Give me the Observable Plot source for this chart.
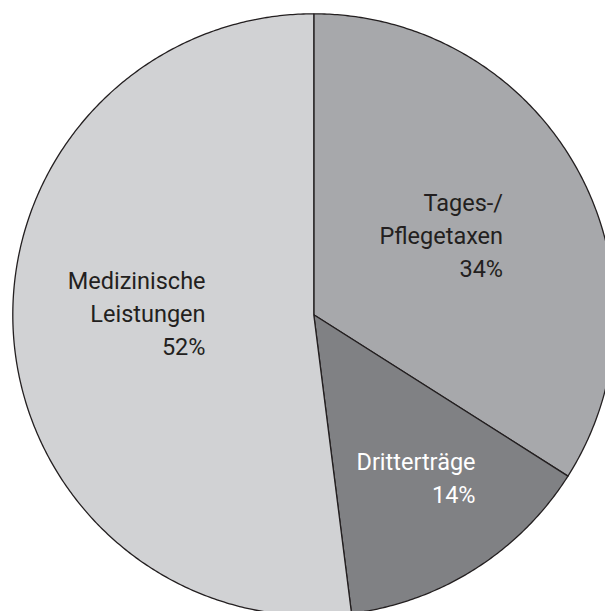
<!DOCTYPE html>
<html>
<head>
<meta charset="utf-8">
<script src="https://cdn.jsdelivr.net/npm/d3@7"></script>
<script src="https://cdn.jsdelivr.net/npm/@observablehq/plot@0.6"></script>
<style>
  html, body { margin: 0; padding: 0; background: #fff; overflow: hidden; }
</style>
</head>
<body>
<div id="chart"></div>
<script>
// ---- data ----
const categories = ["Tages-/\nPflegetaxen", "Dritterträge", "Medizinische\nLeistungen"];
const shares = [34, 14, 52];
const fills = ["#a7a8ab", "#808184", "#d1d2d4"];
const textColors = ["#231f20", "#ffffff", "#231f20"];
// label placement offsets (px) relative to slice point at 0.6 radius
const labelOffsets = [[31, 6], [65, 9], [72, -15]];

// ---- layout ----
const W = 605, H = 611;
const cx = 313.3, cy = 314.3, R = 301;

const pie = d3.pie().sort(null).value(d => d.share);
const slices = pie(categories.map((c, i) => ({name: c, share: shares[i], fill: fills[i], text: textColors[i], i})));

// outline points for each slice (unit circle coords, angle clockwise from top)
const pts = [];
for (const s of slices) {
  pts.push({id: s.data.i, x: 0, y: 0, fill: s.data.fill});
  const n = Math.max(2, Math.ceil((s.endAngle - s.startAngle) / (Math.PI / 360)));
  for (let k = 0; k <= n; k++) {
    const a = s.startAngle + (s.endAngle - s.startAngle) * k / n;
    pts.push({id: s.data.i, x: Math.sin(a), y: Math.cos(a), fill: s.data.fill});
  }
}

const labels = slices.map(s => {
  const a = (s.startAngle + s.endAngle) / 2;
  return {
    x: 0.6 * Math.sin(a), y: 0.6 * Math.cos(a),
    label: s.data.name + "\n" + s.data.share + "%",
    color: s.data.text,
    dx: labelOffsets[s.data.i][0], dy: labelOffsets[s.data.i][1]
  };
});

const chart = Plot.plot({
  width: W, height: H,
  margin: 0,
  style: {background: "transparent", overflow: "visible"},
  x: {domain: [-1, 1], range: [cx - R, cx + R], axis: null},
  y: {domain: [-1, 1], range: [cy + R, cy - R], axis: null},
  color: {type: "identity"},
  marks: [
    Plot.line(pts, {x: "x", y: "y", z: "id", fill: "fill", stroke: "#231f20", strokeWidth: 1.3, curve: "linear-closed", strokeLinejoin: "round"}),
    ...labels.map(l => Plot.text([l], {
      x: "x", y: "y", text: "label", fill: l.color,
      textAnchor: "end", lineHeight: 1.4,
      fontSize: 23.5, fontFamily: "Roboto",
      dx: l.dx, dy: l.dy
    }))
  ]
});
document.getElementById("chart").appendChild(chart);
</script>
</body>
</html>
